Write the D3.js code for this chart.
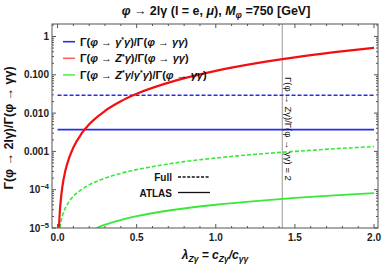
<!DOCTYPE html>
<html><head><meta charset="utf-8">
<script src="https://cdn.jsdelivr.net/npm/d3@7"></script>
<style>body{margin:0;background:#fff}text{font-family:"Liberation Sans",Arial,sans-serif}</style>
</head><body><svg id="c" width="382" height="267"></svg>
<script>
// ---- data ----
const xTicks = [0, 0.5, 1.0, 1.5, 2.0];
const xTickLabels = ["0.0", "0.5", "1.0", "1.5", "2.0"];
const yTicks = [1, 0.1, 0.01, 0.001, 1e-4, 1e-5];
const yTickLabels = ["1", "0.100", "0.010", "0.001", "10^-4", "10^-5"];

const blueFullLam = [0, 2];
const blueFullVal = [0.0293, 0.0293];
const blueAtlasLam = [0, 2];
const blueAtlasVal = [0.0037, 0.0037];

const redLam = [0.009, 0.015, 0.02, 0.03, 0.05, 0.075, 0.1, 0.15, 0.2, 0.3, 0.4, 0.5, 0.75, 1.0, 1.25, 1.5, 1.75, 2.0];
const redVal = [1.03e-5, 2.9e-5, 5.1e-5, 1.15e-4, 3.2e-4, 7.1e-4, 1.27e-3, 2.85e-3, 5.1e-3, 0.0114, 0.0203, 0.0318, 0.0714, 0.127, 0.198, 0.286, 0.389, 0.508];

const greenFullLam = [0.015, 0.02, 0.03, 0.05, 0.075, 0.1, 0.15, 0.2, 0.3, 0.4, 0.6, 0.8, 1.0, 1.25, 1.5, 1.75, 2.0];
const greenFullVal = [1.0e-5, 1.34e-5, 2.0e-5, 3.35e-5, 5.0e-5, 6.7e-5, 1.0e-4, 1.34e-4, 2.0e-4, 2.68e-4, 4.0e-4, 5.4e-4, 6.7e-4, 8.4e-4, 1.0e-3, 1.17e-3, 1.34e-3];

const greenAtlasLam = [0.247, 0.3, 0.4, 0.5, 0.75, 1.0, 1.25, 1.5, 1.75, 2.0];
const greenAtlasVal = [1.0e-5, 1.22e-5, 1.62e-5, 2.03e-5, 3.04e-5, 4.05e-5, 5.06e-5, 6.08e-5, 7.1e-5, 8.1e-5];

const markerLam = 1.42;

// ---- layout ----
const L = 52, R = 378, T = 24, B = 228;
const svg = d3.select("#c");
const x = d3.scaleLinear().domain([-0.035, 2.025]).range([L, R]);
const y = d3.scaleLog().domain([1e-5, 2.12]).range([B, T]);

const plot = svg.append("g");
svg.append("defs").append("clipPath").attr("id", "clip")
  .append("rect").attr("x", L).attr("y", T).attr("width", R - L).attr("height", B - T);

// vertical marker line
plot.append("line").attr("x1", x(markerLam)).attr("x2", x(markerLam)).attr("y1", T).attr("y2", B)
  .attr("stroke", "#999").attr("stroke-width", 1);

const line = d3.line().x(d => x(d[0])).y(d => y(d[1]));
function draw(lam, val, color, dashed, w) {
  plot.append("path").attr("clip-path", "url(#clip)")
    .datum(lam.map((l, i) => [l, val[i]]))
    .attr("d", line.curve(d3.curveMonotoneX)).attr("fill", "none")
    .attr("stroke", color).attr("stroke-width", w)
    .attr("stroke-dasharray", dashed ? "4,2" : null);
}
draw(blueFullLam, blueFullVal, "#2b2bef", true, 1.6);
draw(blueAtlasLam, blueAtlasVal, "#2b2bef", false, 1.7);
draw(greenFullLam, greenFullVal, "#3ae83a", true, 1.6);
draw(greenAtlasLam, greenAtlasVal, "#3ae83a", false, 1.8);
draw(redLam, redVal, "#f01010", false, 2.2);

// frame
svg.append("rect").attr("x", L).attr("y", T).attr("width", R - L).attr("height", B - T)
  .attr("fill", "none").attr("stroke", "#555").attr("stroke-width", 1);

// ticks
const tickCol = "#555";
const xMinor = d3.range(0, 2.01, 0.1).filter(v => Math.abs(v * 2 - Math.round(v * 2)) > 1e-6);
xTicks.forEach(v => {
  svg.append("line").attr("x1", x(v)).attr("x2", x(v)).attr("y1", B).attr("y2", B - 4).attr("stroke", tickCol);
  svg.append("line").attr("x1", x(v)).attr("x2", x(v)).attr("y1", T).attr("y2", T + 4).attr("stroke", tickCol);
});
xMinor.forEach(v => {
  svg.append("line").attr("x1", x(v)).attr("x2", x(v)).attr("y1", B).attr("y2", B - 2).attr("stroke", tickCol);
  svg.append("line").attr("x1", x(v)).attr("x2", x(v)).attr("y1", T).attr("y2", T + 2).attr("stroke", tickCol);
});
const yMinor = [];
for (let e = -5; e <= 0; e++) for (let m = 2; m <= 9; m++) { const v = m * Math.pow(10, e); if (v < 2.12) yMinor.push(v); }
yTicks.forEach(v => {
  svg.append("line").attr("x1", L).attr("x2", L + 4).attr("y1", y(v)).attr("y2", y(v)).attr("stroke", tickCol);
  svg.append("line").attr("x1", R).attr("x2", R - 4).attr("y1", y(v)).attr("y2", y(v)).attr("stroke", tickCol);
});
yMinor.forEach(v => {
  svg.append("line").attr("x1", L).attr("x2", L + 2).attr("y1", y(v)).attr("y2", y(v)).attr("stroke", tickCol);
  svg.append("line").attr("x1", R).attr("x2", R - 2).attr("y1", y(v)).attr("y2", y(v)).attr("stroke", tickCol);
});

// tick labels
xTicks.forEach((v, i) => {
  svg.append("text").attr("x", x(v)).attr("y", B + 13).attr("text-anchor", "middle")
    .attr("font-size", 10).attr("font-weight", "bold").attr("fill", "#222").text(xTickLabels[i]);
});
yTicks.forEach((v, i) => {
  const lab = yTickLabels[i];
  const t = svg.append("text").attr("x", L - 3).attr("y", y(v) + 3.5).attr("text-anchor", "end")
    .attr("font-size", 10).attr("font-weight", "bold").attr("fill", "#222");
  if (lab.includes("^")) {
    const [b, e] = lab.split("^");
    t.append("tspan").text(b);
    t.append("tspan").attr("dy", -4).attr("font-size", 7.5).text(e.replace("-", "\u2212"));
  } else t.text(lab);
});

// title
const title = svg.append("text").attr("x", 216).attr("y", 15).attr("text-anchor", "middle")
  .attr("font-size", 12.5).attr("font-weight", "bold").attr("fill", "#111");
title.append("tspan").attr("font-style", "italic").text("φ");
title.append("tspan").text(" → 2lγ (l = e, ");
title.append("tspan").attr("font-style", "italic").text("μ");
title.append("tspan").text("), ");
title.append("tspan").attr("font-style", "italic").text("M");
title.append("tspan").attr("font-style", "italic").attr("font-size", 9).attr("dy", 3).text("φ");
title.append("tspan").attr("dy", -3).text(" =750 [GeV]");

// y label
svg.append("text").attr("transform", "translate(13,128) rotate(-90)").attr("text-anchor", "middle")
  .attr("font-size", 12.5).attr("font-weight", "bold").attr("fill", "#111")
  .text("Γ(φ → 2lγ)/Γ(φ → γγ)");

// x label
const xl = svg.append("text").attr("x", 215).attr("y", 259).attr("text-anchor", "middle")
  .attr("font-size", 12).attr("font-weight", "bold").attr("font-style", "italic").attr("fill", "#111");
xl.append("tspan").text("λ");
xl.append("tspan").attr("font-size", 8.5).attr("dy", 3).text("Zγ");
xl.append("tspan").attr("dy", -3).text(" = c");
xl.append("tspan").attr("font-size", 8.5).attr("dy", 3).text("Zγ");
xl.append("tspan").attr("dy", -3).text("/c");
xl.append("tspan").attr("font-size", 8.5).attr("dy", 3).text("γγ");

// rotated annotation
svg.append("text").attr("transform", `translate(${x(markerLam) + 3},129) rotate(90)`).attr("text-anchor", "middle")
  .attr("font-size", 9.5).attr("fill", "#111")
  .text("Γ(φ → Zγ)/Γ(φ → γγ) = 2");

// legend (series)
const legendItems = [
  { color: "#2b2bef", label: ["Γ(", "~φ", " → ", "~γ", "*", "~γ", ")/Γ(", "~φ", " → ", "~γγ", ")"] },
  { color: "#ff6060", label: ["Γ(", "~φ", " → ", "~Z", "*", "~γ", ")/Γ(", "~φ", " → ", "~γγ", ")"] },
  { color: "#55f055", label: ["Γ(", "~φ", " → ", "~Z", "*", "~γ", "/", "~γ", "*", "~γ", ")/Γ(", "~φ", " → ", "~γγ", ")"] }
];
legendItems.forEach((d, i) => {
  const yy = 41.7 + i * 16.6;
  svg.append("line").attr("x1", 63).attr("x2", 75).attr("y1", yy).attr("y2", yy)
    .attr("stroke", d.color).attr("stroke-width", 1.6);
  const t = svg.append("text").attr("x", 80).attr("y", yy + 3.8)
    .attr("font-size", 11).attr("font-weight", "bold").attr("fill", "#111");
  let prevStar = false;
  d.label.forEach(s => {
    if (s === "*") { t.append("tspan").attr("dy", -3.5).attr("font-size", 7).text("*"); prevStar = true; }
    else {
      const it = s.startsWith("~");
      const sp = t.append("tspan").text(it ? s.slice(1) : s);
      if (it) sp.attr("font-style", "italic");
      if (prevStar) sp.attr("dy", 3.5);
      prevStar = false;
    }
  });
});

// legend (line style)
const styleItems = [{ label: "Full", dash: "3,1.6" }, { label: "ATLAS", dash: null }];
styleItems.forEach((d, i) => {
  const yy = 177 + i * 15.5;
  svg.append("text").attr("x", 172).attr("y", yy + 4).attr("text-anchor", "end")
    .attr("font-size", 10).attr("font-weight", "bold").attr("fill", "#111").text(d.label);
  svg.append("line").attr("x1", 178).attr("x2", 210).attr("y1", yy).attr("y2", yy)
    .attr("stroke", "#111").attr("stroke-width", 1.3).attr("stroke-dasharray", d.dash);
});
</script></body></html>
